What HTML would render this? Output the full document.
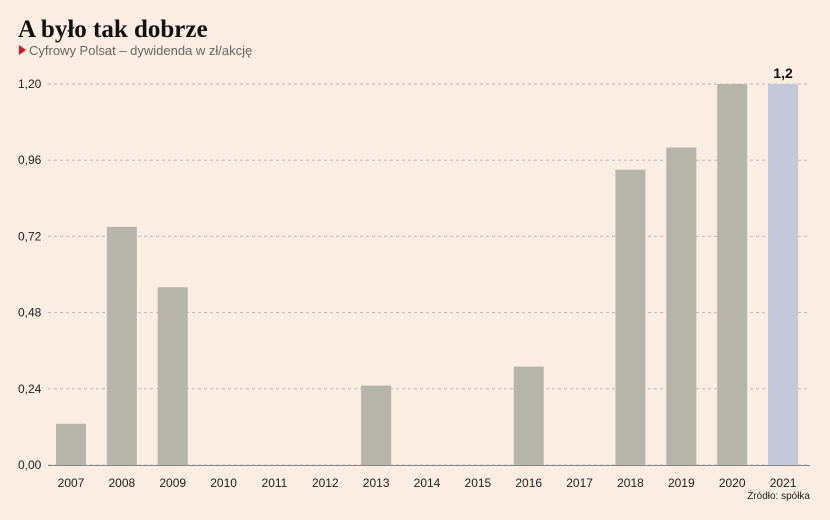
<!DOCTYPE html>
<html><head><meta charset="utf-8"><style>
body{margin:0;background:#fbede1;font-family:"Liberation Sans",sans-serif;}
svg{display:block}
</style></head><body>
<svg width="830" height="520">
<rect width="830" height="520" fill="#fbede1"/>
<text x="18" y="37" font-family="Liberation Serif,serif" font-weight="bold" font-size="25" fill="#111">A było tak dobrze</text>
<path d="M19,45 L26,50 L19,55 Z" fill="#e0121b"/>
<text x="29" y="55" font-size="13" fill="#666">Cyfrowy Polsat – dywidenda w zł/akcję</text>
<g id="grid"></g><g id="bars"></g><g id="labels"></g>
<text x="810" y="499" text-anchor="end" font-size="10" fill="#222">Źródło: spółka</text>
</svg>
<script>
const years=["2007","2008","2009","2010","2011","2012","2013","2014","2015","2016","2017","2018","2019","2020","2021"];
const values=[0.13,0.75,0.56,0,0,0,0.25,0,0,0.31,0,0.93,1.0,1.2,1.2];
const ticks=[0,0.24,0.48,0.72,0.96,1.20];
const tickLabels=["0,00","0,24","0,48","0,72","0,96","1,20"];
const highlightLabel="1,2";
const NS="http://www.w3.org/2000/svg";
const y0=465,y1=84,vmax=1.2;
const y=v=>y0-(v/vmax)*(y0-y1);
const x=i=>56+i*50.86;
const bw=30;
function mk(t,a,p){const e=document.createElementNS(NS,t);for(const k in a)e.setAttribute(k,a[k]);p.appendChild(e);return e;}
const g=document.getElementById('grid'),b=document.getElementById('bars'),l=document.getElementById('labels');
ticks.forEach((t,i)=>{
 const ln=mk('line',{x1:48,x2:810,y1:y(t),y2:y(t),stroke:'#bdb7b0','stroke-dasharray':'3,3','stroke-width':1},g);
 
 
 const tx=mk('text',{x:18,y:y(t)+4,'font-size':12,fill:'#222'},g);tx.textContent=tickLabels[i];
 
 
});
const base=mk('line',{x1:48,x2:810,y1:y0+0.5,y2:y0+0.5,stroke:'#888','stroke-width':1},g);


years.forEach((yr,i)=>{
 if(values[i]>0){
  const r=mk('rect',{x:x(i),y:y(values[i]),width:bw,height:y0-y(values[i]),fill:i===years.length-1?'#c3c8da':'#b6b5ab'},b);
  
  
 }
 const t=mk('text',{x:x(i)+bw/2,y:487,'text-anchor':'middle','font-size':12,fill:'#222'},l);t.textContent=yr;
 
 
});
const last=years.length-1;
const vl=mk('text',{x:x(last)+bw/2,y:y(values[last])-6,'text-anchor':'middle','font-size':14,'font-weight':'bold',fill:'#111'},l);vl.textContent=highlightLabel;


</script>
</body></html>
